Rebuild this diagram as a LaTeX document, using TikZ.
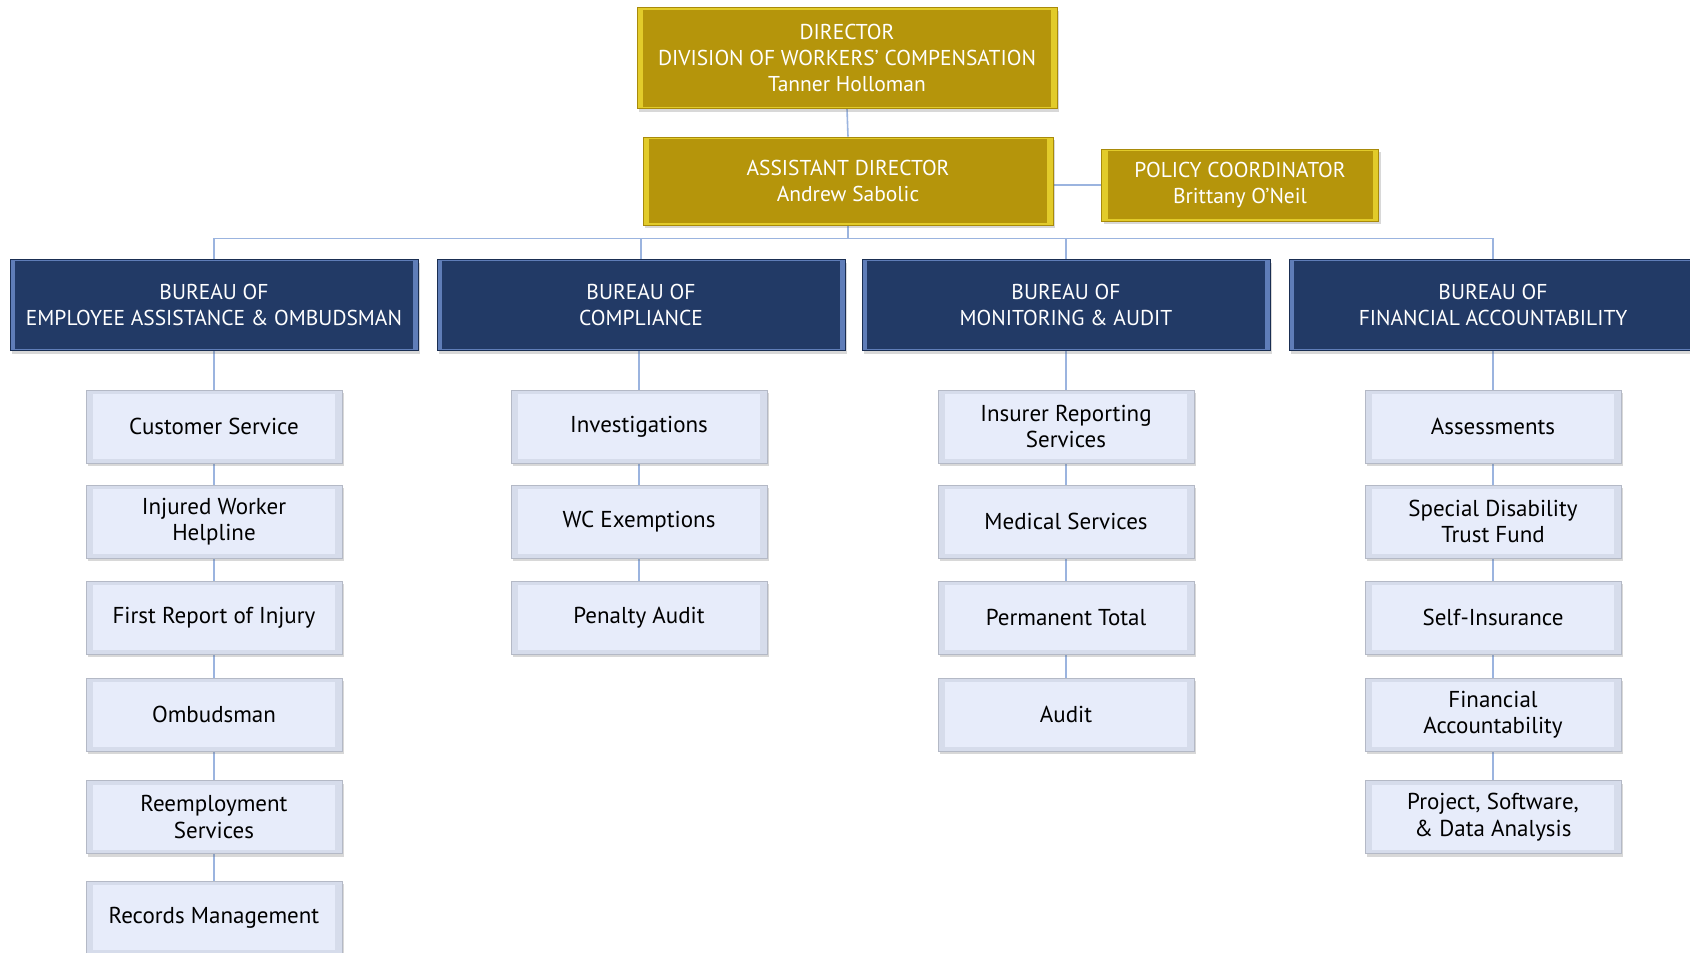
\documentclass[tikz,border=0pt]{standalone}
\usepackage{fontspec}
\setmainfont{PT Sans}
\usetikzlibrary{shadows,backgrounds}
\definecolor{goldm}{HTML}{B5950B}
\definecolor{goldb}{HTML}{E2CB2A}
\definecolor{goldd}{HTML}{A88A0A}
\definecolor{navym}{HTML}{223A66}
\definecolor{navyb}{HTML}{5F7DB8}
\definecolor{navyd}{HTML}{1A2E52}
\definecolor{lightm}{HTML}{E7ECFA}
\definecolor{lightb}{HTML}{D6DCEB}
\definecolor{lightd}{HTML}{B4B9C6}
\definecolor{linec}{HTML}{9BB4DF}
\tikzset{
  bev/.style n args={5}{draw=#3, line width=0.8pt,
    path picture={
      \fill[#1] (path picture bounding box.south west) rectangle (path picture bounding box.north east);
      \fill[#2] ([shift={(#4,#5)}]path picture bounding box.south west) rectangle ([shift={(-#4,-#5)}]path picture bounding box.north east);
    }},
  shad/.style={drop shadow={shadow xshift=2pt, shadow yshift=-3pt, opacity=0.25, fill=black!60}},
  goldbox/.style={bev={goldb}{goldm}{goldd}{6pt}{2pt}, shad, inner sep=0pt, align=center, text=white,
    font=\fontsize{21.5}{26}\selectfont},
  bureau/.style={bev={navyb}{navym}{navyd}{5pt}{1.5pt}, shad, inner sep=0pt, align=center, text=white,
    minimum width=408pt, minimum height=91pt, font=\fontsize{21.5}{26}\selectfont},
  unit/.style={bev={lightb}{lightm}{lightd}{7pt}{4pt}, shad, inner sep=0pt, align=center, text=black,
    minimum width=256pt, minimum height=73pt, font=\fontsize{23}{26.5}\selectfont},
  conn/.style={draw=linec, line width=1.6pt},
}
\begin{document}
\begin{tikzpicture}[x=1pt, y=-1pt]
\clip (0,0) rectangle (1690,953);

% top
\node[goldbox, minimum width=420pt, minimum height=101pt] (dir) at (847,58)
  {DIRECTOR\\DIVISION OF WORKERS’ COMPENSATION\\Tanner Holloman};
\node[goldbox, minimum width=410pt, minimum height=88pt] (asst) at (848,181)
  {ASSISTANT DIRECTOR\\Andrew Sabolic};
\node[goldbox, minimum width=277pt, minimum height=72pt] (pol) at (1240,185)
  {POLICY COORDINATOR\\Brittany O’Neil};

% bureaus
\node[bureau] (b1) at (214,305) {BUREAU OF\\EMPLOYEE ASSISTANCE \& OMBUDSMAN};
\node[bureau] (b2) at (641,305) {BUREAU OF\\COMPLIANCE};
\node[bureau] (b3) at (1066,305) {BUREAU OF\\MONITORING \& AUDIT};
\node[bureau] (b4) at (1493,305) {BUREAU OF\\FINANCIAL ACCOUNTABILITY};

% column 1
\node[unit] (a1) at (214,426.5) {Customer Service};
\node[unit] (a2) at (214,521.5) {Injured Worker\\Helpline};
\node[unit] (a3) at (214,617.5) {First Report of Injury};
\node[unit] (a4) at (214,714.5) {Ombudsman};
\node[unit] (a5) at (214,817) {Reemployment\\Services};
\node[unit] (a6) at (214,917.5) {Records Management};

% column 2
\node[unit] (c1) at (639,426.5) {Investigations};
\node[unit] (c2) at (639,521.5) {WC Exemptions};
\node[unit] (c3) at (639,617.5) {Penalty Audit};

% column 3
\node[unit] (m1) at (1066,426.5) {Insurer Reporting\\Services};
\node[unit] (m2) at (1066,521.5) {Medical Services};
\node[unit] (m3) at (1066,617.5) {Permanent Total};
\node[unit] (m4) at (1066,714.5) {Audit};

% column 4
\node[unit] (f1) at (1493,426.5) {Assessments};
\node[unit] (f2) at (1493,521.5) {Special Disability\\Trust Fund};
\node[unit] (f3) at (1493,617.5) {Self-Insurance};
\node[unit] (f4) at (1493,714.5) {Financial\\Accountability};
\node[unit] (f5) at (1493,817) {Project, Software,\\\& Data Analysis};

% connectors
\begin{scope}[on background layer]
\fill[white] (0,0) rectangle (1690,953);
\draw[conn] (dir.south) -- (asst.north);
\draw[conn] (asst.east |- pol.west) -- (pol.west);
\draw[conn] (asst.south) -- ++(0,13) -| (b1.north);
\draw[conn] (asst.south) -- ++(0,13) -| (b2.north);
\draw[conn] (asst.south) -- ++(0,13) -| (b3.north);
\draw[conn] (asst.south) -- ++(0,13) -| (b4.north);
\draw[conn] (b1.south) -- (a1.north) (a1.south) -- (a2.north) (a2.south) -- (a3.north)
  (a3.south) -- (a4.north) (a4.south) -- (a5.north) (a5.south) -- (a6.north);
\draw[conn] (b2.south -| c1.north) -- (c1.north) (c1.south) -- (c2.north) (c2.south) -- (c3.north);
\draw[conn] (b3.south) -- (m1.north) (m1.south) -- (m2.north) (m2.south) -- (m3.north)
  (m3.south) -- (m4.north);
\draw[conn] (b4.south) -- (f1.north) (f1.south) -- (f2.north) (f2.south) -- (f3.north)
  (f3.south) -- (f4.north) (f4.south) -- (f5.north);
\end{scope}
\end{tikzpicture}
\end{document}
